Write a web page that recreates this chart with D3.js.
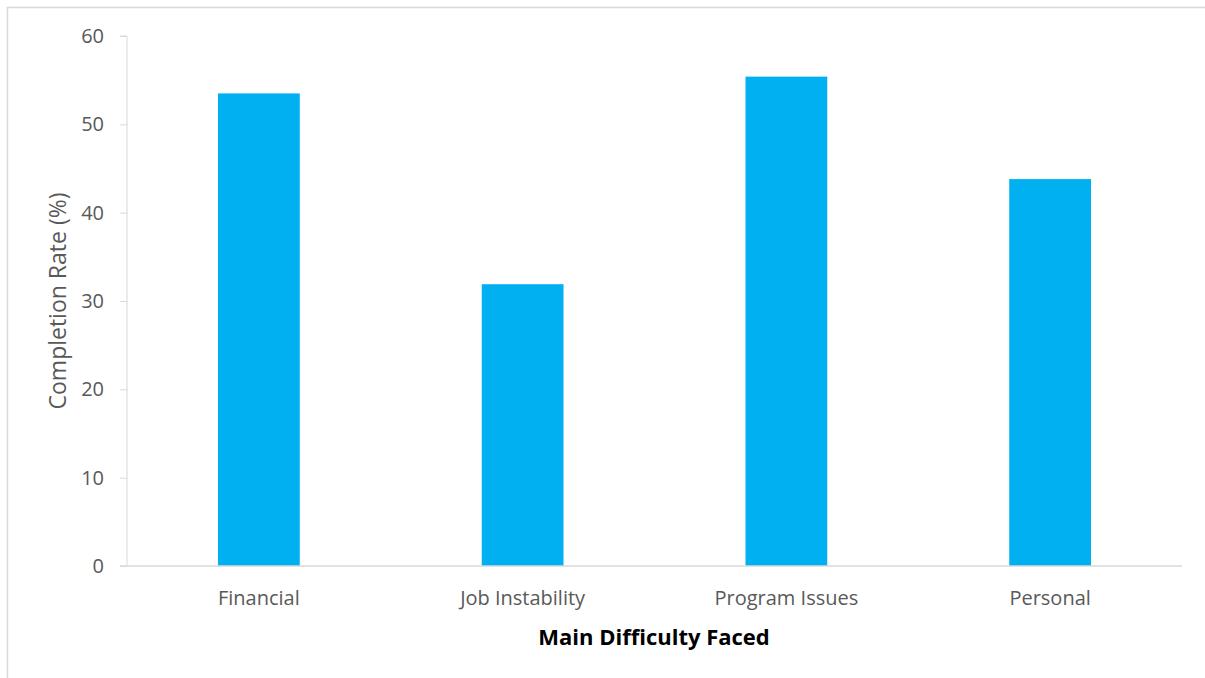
<!DOCTYPE html>
<html><head><meta charset="utf-8">
<script src="https://cdn.jsdelivr.net/npm/d3@7"></script>
<style>body{margin:0;background:#fff;}svg{display:block;}</style>
</head><body>
<svg id="c" width="1205" height="678"></svg>
<script>
const categories = ["Financial", "Job Instability", "Program Issues", "Personal"];
const values = [53.5, 31.9, 55.4, 43.8];
const yTicks = [0, 10, 20, 30, 40, 50, 60];

(function () {
const svg = d3.select("#c");
const font = "'Open Sans', 'Noto Sans', sans-serif";
// frame
svg.append("rect").attr("x", 7.5).attr("y", 7.5).attr("width", 1205).attr("height", 680)
  .attr("fill", "none").attr("stroke", "#d9d9d9").attr("stroke-width", 1.5);

const mLeft = 127, mRight = 1182, mTop = 36, mBottom = 566;
const x = d3.scaleBand().domain(categories).range([mLeft, mRight]).paddingInner(0.69).paddingOuter(0.345);
const y = d3.scaleLinear().domain([0, 60]).range([mBottom, mTop]);

// y axis
const ya = svg.append("g").attr("transform", `translate(${mLeft},0)`)
  .call(d3.axisLeft(y).tickValues(yTicks).tickSize(7).tickPadding(16));
ya.select(".domain").attr("stroke", "#d9d9d9").attr("d", `M-7,${mTop}H0V${mBottom}`);
ya.selectAll(".tick line").attr("stroke", "#d9d9d9");
ya.selectAll(".tick text").attr("font-family", font).attr("font-size", 20).attr("fill", "#595959");

// bars
svg.append("g").selectAll("rect").data(values).join("rect")
  .attr("x", (d, i) => x(categories[i]))
  .attr("y", d => y(d))
  .attr("width", x.bandwidth())
  .attr("height", d => y(0) - y(d))
  .attr("fill", "#00b0f0");

// x axis
const xa = svg.append("g").attr("transform", `translate(0,${mBottom})`)
  .call(d3.axisBottom(x).tickSize(0).tickPadding(25));
xa.select(".domain").attr("stroke", "#d9d9d9").attr("stroke-width", 1.5).attr("d", `M${mLeft - 7},0H${mRight}`);
xa.selectAll(".tick text").attr("font-family", font).attr("font-size", 20).attr("fill", "#595959");

// titles
svg.append("text").attr("x", 654).attr("y", 645).attr("text-anchor", "middle")
  .attr("font-family", font).attr("font-size", 22).attr("font-weight", "bold").attr("fill", "#000")
  .text("Main Difficulty Faced");
svg.append("text").attr("transform", `translate(66,301) rotate(-90)`).attr("text-anchor", "middle")
  .attr("font-family", font).attr("font-size", 23).attr("fill", "#595959")
  .text("Completion Rate (%)");
})();
</script>
</body></html>
